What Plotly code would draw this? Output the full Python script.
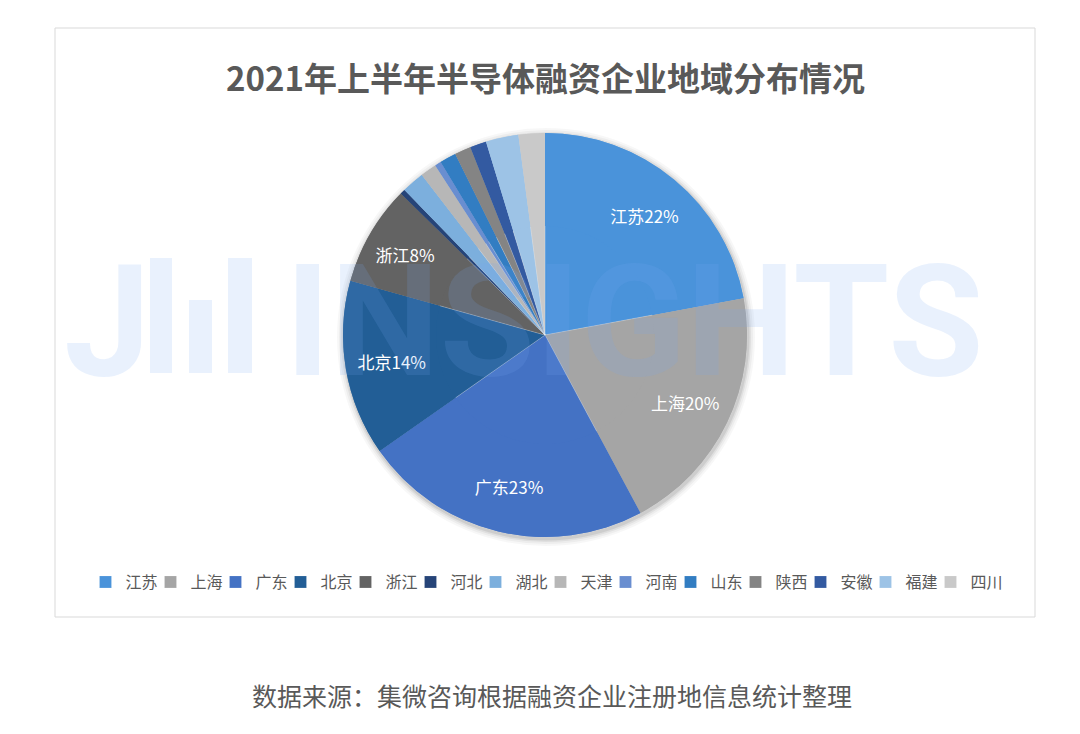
import plotly.graph_objects as go

regions = ["江苏", "上海", "广东", "北京", "浙江", "河北", "湖北", "天津", "河南", "山东", "陕西", "安徽", "福建", "四川"]
shares = [22, 20, 23, 14, 8, 0.4, 1.8, 1.3, 0.5, 1.3, 1.3, 1.3, 2.6, 2.1]
colors = ["#4A93DA", "#A5A5A5", "#4472C4", "#225E96", "#636363", "#264478", "#7CAFDD",
          "#B7B7B7", "#698ED0", "#327DC2", "#848484", "#335AA1", "#9DC3E6", "#C9C9C9"]
labeled = ["江苏", "上海", "广东", "北京", "浙江"]

title = "2021年上半年半导体融资企业地域分布情况"
source = "数据来源：集微咨询根据融资企业注册地信息统计整理"
watermark_letter = "J"
watermark_word = "INSIGHTS"

font_family = "Noto Sans CJK SC, Noto Sans, sans-serif"
wm_family = "Roboto, sans-serif"
wm_color = "rgba(120,170,240,0.16)"
W, H = 1080, 734


def px(x):
    return x / W


def py(y):
    return (H - y) / H


templates = ["%{label}%{percent:.0%}" if r in labeled else "" for r in regions]

cx, cy, R = 545, 335, 202
domain = dict(x=[px(cx - R), px(cx + R)], y=[py(cy + R), py(cy - R)])

# full pie (slices + legend)
base = go.Pie(
    labels=regions,
    values=shares,
    sort=False,
    direction="clockwise",
    rotation=0,
    marker=dict(colors=colors, line=dict(color="rgba(255,255,255,0.35)", width=0.5)),
    textinfo="none",
    hoverinfo="label+percent",
    domain=domain,
)
# same pie as a ring carrying the labels (places them toward the rim)
ring = go.Pie(
    labels=regions,
    values=shares,
    sort=False,
    direction="clockwise",
    rotation=0,
    hole=0.54,
    marker=dict(colors=colors, line=dict(width=0)),
    texttemplate=templates,
    textposition="inside",
    insidetextorientation="horizontal",
    textfont=dict(color="white", size=17, family=font_family),
    hoverinfo="skip",
    showlegend=False,
    domain=domain,
)
# empty legend spacer so the last legend entry is not clipped
spacer = go.Scatter(x=[None], y=[None], mode="markers", name=" ",
                    marker=dict(color="rgba(0,0,0,0)"), showlegend=True, hoverinfo="skip")
fig = go.Figure([base, ring, spacer])

shadow = []
for grow, alpha in [(7, 0.03), (5, 0.04), (3, 0.06), (1.5, 0.08)]:
    shadow.append(dict(
        type="circle", xref="paper", yref="paper",
        x0=px(cx - R - grow + 1), x1=px(cx + R + grow + 1),
        y0=py(cy + R + grow + 2), y1=py(cy - R - grow + 2),
        line=dict(width=0), fillcolor=f"rgba(0,0,0,{alpha})", layer="below",
    ))

# watermark logo bars (decoration)
logo_bars = []
for x0, x1, y0 in [(150, 172, 258), (189, 212, 300), (228, 252, 258)]:
    logo_bars.append(dict(
        type="rect", xref="paper", yref="paper",
        x0=px(x0), x1=px(x1), y0=py(373), y1=py(y0),
        line=dict(width=0), fillcolor=wm_color, layer="above",
    ))

fig.update_layout(
    width=W, height=H,
    margin=dict(l=0, r=0, t=0, b=0),
    paper_bgcolor="white",
    plot_bgcolor="white",
    font=dict(family=font_family, color="#595959"),
    showlegend=True,
    xaxis=dict(visible=False),
    yaxis=dict(visible=False),
    legend=dict(
        orientation="h",
        x=px(573), xanchor="center",
        y=py(582), yanchor="middle",
        font=dict(size=16, color="#595959", family=font_family),
        itemwidth=30,
        entrywidth=20,
        entrywidthmode="pixels",
        traceorder="normal",
        bgcolor="rgba(0,0,0,0)",
        borderwidth=0,
    ),
    shapes=[dict(
        type="rect", xref="paper", yref="paper",
        x0=px(55), x1=px(1035), y0=py(617), y1=py(28),
        line=dict(color="#D9D9D9", width=1), fillcolor="rgba(0,0,0,0)", layer="below",
    )] + shadow + logo_bars,
    annotations=[
        dict(text="<b>" + title + "</b>", x=px(545), y=py(77), xref="paper", yref="paper",
             showarrow=False, font=dict(size=33, color="#595959", family=font_family),
             xanchor="center", yanchor="middle"),
        dict(text=source, x=px(552), y=py(695), xref="paper", yref="paper",
             showarrow=False, font=dict(size=25, color="#595959", family=font_family),
             xanchor="center", yanchor="middle"),
        dict(text="<b>" + watermark_letter + "</b>", x=px(62), y=py(322), xref="paper", yref="paper",
             showarrow=False, font=dict(size=155, color=wm_color, family=wm_family),
             xanchor="left", yanchor="middle"),
        dict(text="<b>" + watermark_word + "</b>", x=px(635), y=py(322), xref="paper", yref="paper",
             showarrow=False, font=dict(size=155, color=wm_color, family=wm_family),
             xanchor="center", yanchor="middle"),
    ],
)

fig.write_html("out.html", post_script="document.body.style.margin='0';",
               config={"displayModeBar": False})
